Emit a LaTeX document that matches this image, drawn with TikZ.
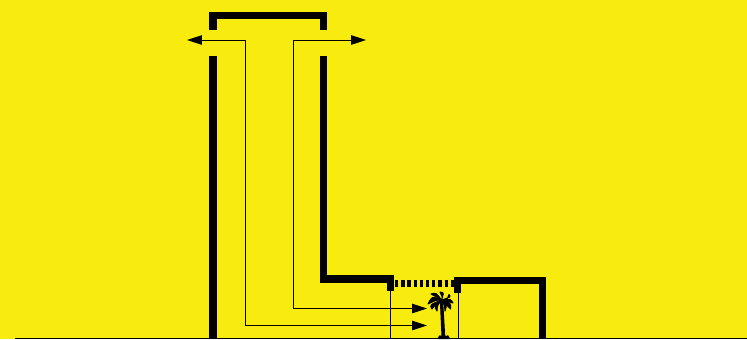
\documentclass[tikz,border=0pt]{standalone}
\usepackage{xcolor}
\usetikzlibrary{arrows.meta, calc}
\definecolor{signyellow}{HTML}{F7EC0E}
\tikzset{
  wall/.style    = {line width=1.5mm, black, line cap=butt, line join=miter},
  openwall/.style = {wall, line width=1.4mm, dash pattern=on 0.66mm off 0.58mm},
  thin/.style    = {line width=0.2mm, black},
  ray/.style     = {thin, {Triangle[length=3mm, width=1.9mm]}-{Triangle[length=3mm, width=1.9mm]}},
  palm/.style    = {fill=black, draw=black, line width=0.2mm, line join=round},
}
\begin{document}
\begin{tikzpicture}[x=0.02cm, y=-0.02cm]
  \useasboundingbox (0,0) rectangle (747,339);
  \fill[signyellow] (0,0) rectangle (747,339);

  % ground and the section walls
  \coordinate (groundL) at (15,338.2);
  \coordinate (groundR) at (747,338.2);
  \draw[thin] (groundL) -- (groundR);

  \draw[wall] (212.8,30) -- (212.8,15.6) -- (323.6,15.6) -- (323.6,30);
  \draw[wall] (212.8,56) -- (212.8,339);
  \draw[wall] (323.6,56) -- (323.6,279.2) -- (390.5,279.2) -- (390.5,291);
  \draw[wall] (457.6,293) -- (457.6,280.7) -- (542.6,280.7) -- (542.6,339);
  \coordinate (openL) at (395,283.5);
  \coordinate (openR) at (453.5,283.5);
  \draw[openwall] (openL) -- (openR);

  % hanging lines under the opening
  \coordinate (hangL) at (390.5,291);
  \coordinate (hangLb) at (390.5,338);
  \coordinate (hangR) at (458,293);
  \coordinate (hangRb) at (458,338);
  \draw[thin] (hangL) -- (hangLb);
  \draw[thin] (hangR) -- (hangRb);

  % two rays: in at the roof slit, out by the palm
  \coordinate (rayA) at (245,40);
  \coordinate (rayAout) at (187,40);
  \coordinate (rayAin) at (427,325.5);
  \coordinate (rayB) at (293,40);
  \coordinate (rayBout) at (366,40);
  \coordinate (rayBin) at (427,308.5);
  \draw[ray] (rayAout) -- (rayA) |- (rayAin);
  \draw[ray] (rayBout) -- (rayB) |- (rayBin);

  % palm
  \coordinate (crown) at (441.5,300);
  \fill[palm] (440.4,301) .. controls (441,315) and (441.5,326) .. (442,336)
    -- (444.6,336) .. controls (444.2,326) and (443.3,312) .. (442.6,301) -- cycle;
  \fill[palm] (438,338.5) -- (439.8,335.8) -- (441,336.5) -- (443.5,335) -- (446,336.5)
    -- (447.8,335.8) -- (449.5,338.5) -- cycle;
  \foreach \tipx/\tipy/\bendx/\bendy in {
      428/304/432/296, 431/294/436/292.5, 440/292/444/292.5, 449/294.5/451/297,
      453/303/451/299, 450.5/309/451/303, 445/311/447/305, 437/311/434/306, 432/309/429.5/305} {
    \fill[palm] (crown) .. controls (\bendx,\bendy) .. (\tipx,\tipy)
      .. controls ($(\bendx,\bendy)!0.45!(crown)+(0,2.2)$) .. (crown);
  }
\end{tikzpicture}
\end{document}
